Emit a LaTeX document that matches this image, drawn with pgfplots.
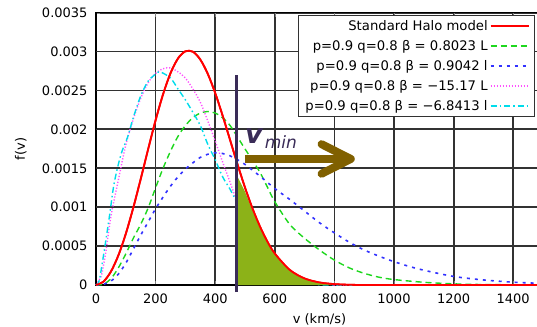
\documentclass[border=0pt]{standalone}
\usepackage{fontspec}
\setmainfont{DejaVu Sans}
\usepackage{pgfplots}
\pgfplotsset{compat=1.18}
\usepackage{pgfplotstable}
\definecolor{cred}{RGB}{255,0,0}
\definecolor{cgreen}{RGB}{30,215,30}
\definecolor{cblue}{RGB}{50,50,255}
\definecolor{cmag}{RGB}{255,80,255}
\definecolor{ccyan}{RGB}{0,220,235}
\definecolor{vline}{RGB}{58,44,88}
\definecolor{arrowc}{RGB}{128,96,0}
\definecolor{fillc}{RGB}{140,178,24}
\definecolor{gridc}{RGB}{50,50,50}

\pgfplotstableread{
v f
0 0
25 0.0000434
50 0.000172
75 0.00038
100 0.000658
125 0.000992
150 0.001362
175 0.001746
200 0.002118
225 0.002451
250 0.002722
275 0.002911
300 0.003004
325 0.002999
350 0.002898
375 0.002715
400 0.002467
425 0.002176
450 0.001863
475 0.00155
500 0.001253
525 0.000985
550 0.000753
575 0.000559
600 0.000404
650 0.000194
700 0.0000838
750 0.0000324
800 0.0000113
850 0.000003
900 0
1000 0
1200 0
1500 0
}\shm

\pgfplotstableread{
v f
0 0
25 0.00001
50 0.00008
75 0.00022
100 0.00040
125 0.00060
150 0.00078
175 0.00099
200 0.00125
225 0.00150
250 0.00172
275 0.00191
300 0.00205
325 0.00215
350 0.00221
375 0.00223
400 0.00221
425 0.00215
450 0.00205
475 0.00190
500 0.00175
525 0.00160
550 0.00145
575 0.00126
600 0.00107
650 0.00078
700 0.00060
750 0.00045
800 0.00032
850 0.00022
900 0.00015
950 0.00010
1000 0.00007
1100 0.000035
1200 0.000015
1300 0.000006
1500 0
}\greenL

\pgfplotstableread{
v f
0 0
25 0.00001
50 0.00005
75 0.00014
100 0.00028
125 0.00046
150 0.00064
175 0.00081
200 0.00098
225 0.00113
250 0.00127
275 0.00139
300 0.00149
325 0.00157
350 0.00164
375 0.00168
400 0.00170
425 0.00169
450 0.00166
475 0.00161
500 0.00155
550 0.00140
600 0.00124
650 0.00110
700 0.00095
750 0.00080
800 0.00067
850 0.00055
900 0.00045
950 0.00037
1000 0.00030
1050 0.00024
1100 0.00019
1200 0.00011
1300 0.000065
1400 0.000036
1500 0.00002
}\bluel

\pgfplotstableread{
v f
0 0
17 0.00011
25 0.00025
34 0.00045
50 0.00088
75 0.00135
100 0.00180
125 0.00213
150 0.00240
175 0.00260
200 0.00272
225 0.00278
250 0.00279
275 0.00274
300 0.00266
325 0.00252
350 0.00235
375 0.00211
400 0.00185
425 0.00158
450 0.00132
475 0.00105
500 0.00082
550 0.00048
600 0.00026
650 0.00013
700 0.00006
750 0.00002
800 0.000005
850 0
1500 0
}\magL

\pgfplotstableread{
v f
0 0
11 0.00006
28 0.00045
45 0.00088
61 0.00131
84 0.00168
106 0.00190
125 0.00215
150 0.00243
175 0.00262
200 0.00271
215 0.00274
250 0.00266
275 0.00252
300 0.00238
325 0.00222
350 0.00205
375 0.00181
400 0.00161
425 0.00139
450 0.00123
475 0.00104
500 0.00082
550 0.00050
600 0.00028
650 0.00014
700 0.00006
750 0.00002
800 0
1500 0
}\cyanl

\begin{document}
\begin{tikzpicture}
\useasboundingbox (-96bp,-42bp) rectangle (441bp,285bp);
\begin{axis}[
  at={(0,0)}, anchor=south west,
  scale only axis, width=447bp, height=272.3bp,
  xmin=0, xmax=1500, ymin=0, ymax=0.0035,
  clip=false,
  xtick={0,200,400,600,800,1000,1200,1400},
  ytick={0,0.0005,0.001,0.0015,0.002,0.0025,0.003,0.0035},
  yticklabels={0,0.0005,0.001,0.0015,0.002,0.0025,0.003,0.0035},
  scaled y ticks=false,
  /pgf/number format/1000 sep={},
  /pgf/number format/assume math mode=true,
  tick label style={font=\fontsize{13bp}{15bp}\selectfont},
  xticklabel style={yshift=-5bp},
  yticklabel style={xshift=-5bp},
  major tick length=4bp,
  xmajorgrids, ymajorgrids,
  major grid style={gridc, line width=1.8bp},
  axis line style={line width=1.4bp},
  xlabel={v (km/s)}, ylabel={f(v)},
  every axis x label/.style={at={(axis description cs:0.5,-0.125)}, anchor=center,
     font=\fontsize{13bp}{15bp}\selectfont},
  every axis y label/.style={at={(axis description cs:-0.168,0.5)}, rotate=90, anchor=center,
     font=\fontsize{13bp}{15bp}\selectfont},
  legend style={at={(rel axis cs:0.982,0.993)}, anchor=north east,
    draw=gridc, line width=1bp, fill=white,
    font=\fontsize{13.2bp}{15bp}\selectfont,
    row sep=4.5bp, inner xsep=5bp, inner ysep=3bp},
  legend cell align=right,
  legend plot pos=right,
  legend image code/.code={\draw[#1, sharp plot] (0bp,0bp) -- (38bp,0bp);},
]
\addplot[gridc, line width=1.6bp, forget plot] coordinates {(0,0.0005) (1500,0.0005)};
\addplot[gridc, line width=1.6bp, forget plot] coordinates {(0,0.001) (1500,0.001)};
\addplot[gridc, line width=1.6bp, forget plot] coordinates {(0,0.0015) (1500,0.0015)};
\addplot[gridc, line width=1.6bp, forget plot] coordinates {(0,0.002) (1500,0.002)};
\addplot[gridc, line width=1.6bp, forget plot] coordinates {(0,0.0025) (1500,0.0025)};
\addplot[gridc, line width=1.6bp, forget plot] coordinates {(0,0.003) (1500,0.003)};

\addplot[cred, line width=1.8bp, smooth] table[x=v,y=f] {\shm};
\addlegendentry{Standard Halo model}
\addplot[cgreen, line width=1.4bp, smooth, dash pattern=on 6bp off 4bp] table[x=v,y=f] {\greenL};
\addlegendentry{p=0.9 q=0.8 β = 0.8023 L}
\addplot[cblue, line width=1.6bp, smooth, dash pattern=on 3bp off 5bp] table[x=v,y=f] {\bluel};
\addlegendentry{p=0.9 q=0.8 β = 0.9042 l}
\addplot[cmag, line width=1.4bp, smooth, dash pattern=on 1.2bp off 1.8bp] table[x=v,y=f] {\magL};
\addlegendentry{p=0.9 q=0.8 β = −15.17 L}
\addplot[ccyan, line width=1.4bp, smooth, dash pattern=on 6bp off 3bp on 1.5bp off 3bp] table[x=v,y=f] {\cyanl};
\addlegendentry{p=0.9 q=0.8 β = −6.8413 l}

\addplot[fill=fillc, draw=none, forget plot] coordinates {
 (474,0) (474,0.00140) (500,0.00120) (525,0.00096) (550,0.00074) (575,0.00055)
 (600,0.000400) (625,0.000285) (650,0.000192) (675,0.000128) (700,0.000083)
 (750,0.000032) (790,0.000012) (790,0)} -- cycle;
\addplot[cred, line width=1.8bp, smooth, forget plot] table[x=v,y=f] {\shm};

\draw[vline, line width=3.5bp] (axis cs:472,-0.00009) -- (axis cs:472,0.0027);
\draw[arrowc, line width=8bp] (axis cs:500,0.00162) -- (axis cs:848,0.00162);
\draw[arrowc, line width=8bp, line cap=round, line join=round]
  (axis cs:757,0.00181) -- (axis cs:855,0.00162) -- (axis cs:757,0.00143);
\node[anchor=base west, text=vline, inner sep=0pt] at (axis cs:500,0.001825)
  {\fontsize{27bp}{27bp}\selectfont\bfseries\itshape v\hspace{2bp}\fontsize{17bp}{17bp}\selectfont\mdseries\raisebox{-5bp}{min}};
\end{axis}
\end{tikzpicture}
\end{document}
